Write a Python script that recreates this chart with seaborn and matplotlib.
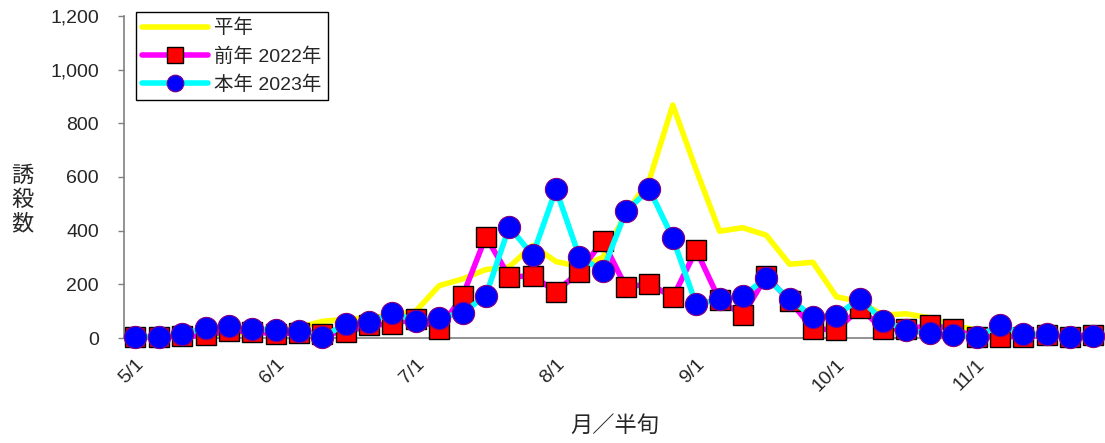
import numpy as np
import pandas as pd
import seaborn as sns
from matplotlib import pyplot as plt

# 半旬 (5-day periods) from 5/1 to 11/30
periods = list(range(42))
tick_pos = [0, 6, 12, 18, 24, 30, 36]
tick_labels = ['5/1', '6/1', '7/1', '8/1', '9/1', '10/1', '11/1']

normal_year = [5, 5, 8, 12, 18, 22, 28, 40, 62, 70, 75, 85, 100, 195, 220, 255, 265, 345,
               285, 266, 300, 465, 590, 868, 627, 398, 411, 383, 275, 282, 154, 135, 86,
               90, 75, 47, 30, 15, 10, 10, 5, 5]
prev_2022 = [3, 3, 7, 10, 26, 24, 15, 20, 16, 21, 47, 53, 72, 35, 155, 378, 228, 231,
             173, 246, 362, 189, 203, 151, 328, 141, 85, 230, 139, 35, 30, 110, 35, 33,
             47, 35, 2, 5, 5, 13, 5, 13]
this_2023 = [4, 5, 15, 37, 45, 34, 30, 27, 4, 52, 60, 93, 65, 76, 93, 158, 415, 308,
             554, 303, 251, 473, 554, 372, 126, 144, 158, 223, 145, 80, 83, 147, 65, 30,
             17, 13, 3, 48, 14, 14, 3, 6]

df = pd.DataFrame({'period': periods, 'normal': normal_year,
                   'prev': prev_2022, 'this': this_2023})

sns.set_style('white')
plt.rcParams['font.family'] = ['Liberation Sans', 'Noto Sans CJK JP', 'DejaVu Sans']

fig = plt.figure(figsize=(11.05, 4.43), dpi=100)
ax = fig.add_axes([0.112, 0.237, 0.888, 0.727])

sns.lineplot(data=df, x='period', y='normal', ax=ax, color='#ffff00', lw=4,
             label='平年', zorder=2)
sns.lineplot(data=df, x='period', y='prev', ax=ax, color='#ff00ff', lw=4,
             marker='s', markersize=15, markerfacecolor='#ff0000',
             markeredgecolor='black', markeredgewidth=1, label='前年 2022年',
             zorder=3, clip_on=False)
sns.lineplot(data=df, x='period', y='this', ax=ax, color='#00ffff', lw=4,
             marker='o', markersize=16, markerfacecolor='#0000ff',
             markeredgecolor='#800080', markeredgewidth=0.8, label='本年 2023年',
             zorder=4, clip_on=False)

ax.set_xlim(-0.5, 41.5)
ax.set_ylim(0, 1200)
ax.set_yticks(range(0, 1201, 200))
ax.set_yticklabels([f'{v:,}' for v in range(0, 1201, 200)], fontsize=14)
ax.set_xticks(tick_pos)
ax.set_xticklabels(tick_labels, fontsize=14, rotation=45, ha='right',
                   rotation_mode='anchor')
ax.tick_params(axis='x', length=0, pad=13)
ax.tick_params(axis='y', direction='out', length=4, width=1, color='#808080',
               left=True, pad=14)

for s in ['top', 'right']:
    ax.spines[s].set_visible(False)
for s in ['left', 'bottom']:
    ax.spines[s].set_color('#808080')
    ax.spines[s].set_linewidth(1.2)

ax.set_xlabel('月／半旬', fontsize=16, labelpad=15)
ax.set_ylabel('')
fig.text(0.02, 0.548, '誘\n殺\n数', fontsize=16, ha='center', va='center',
         linespacing=1.2)

leg = ax.legend(loc='upper left', bbox_to_anchor=(0.012, 1.012), fontsize=14,
                frameon=True, fancybox=False, edgecolor='black',
                handlelength=3.4, handletextpad=0.3, borderpad=0.35,
                labelspacing=0.5, borderaxespad=0, markerscale=0.75)
leg.get_frame().set_linewidth(1)
leg.get_frame().set_alpha(1)

fig.savefig('out.png', dpi=100)
